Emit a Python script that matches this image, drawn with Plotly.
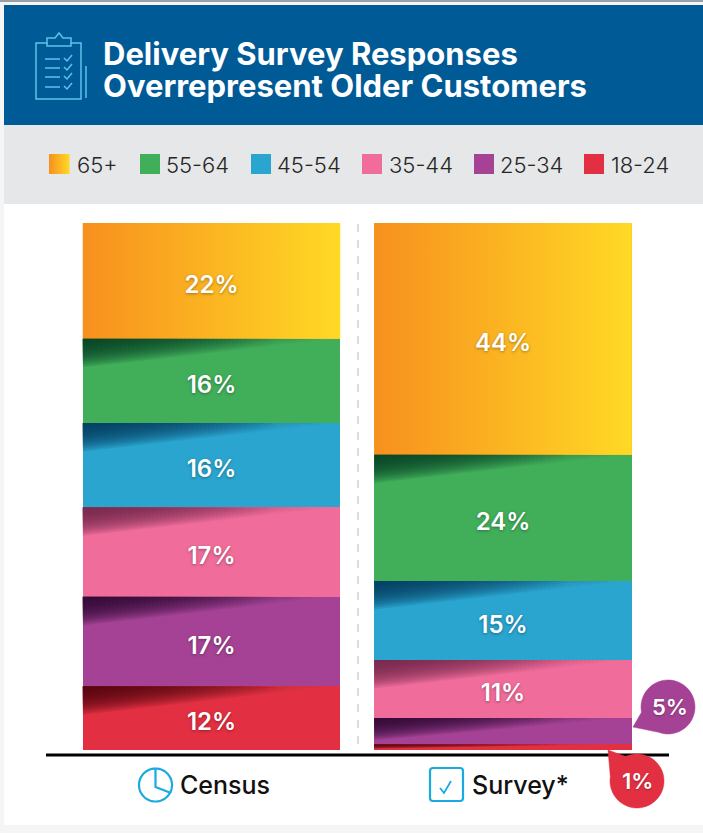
import math
import plotly.graph_objects as go

# Age groups, oldest first, as they stack from top to bottom
AGE_GROUPS = ["65+", "55-64", "45-54", "35-44", "25-34", "18-24"]
CENSUS = [22, 16, 16, 17, 17, 12]
SURVEY = [44, 24, 15, 11, 5, 1]
COLUMNS = ["Census", "Survey*"]
TITLE_LINES = ["Delivery Survey Responses", "Overrepresent Older Customers"]

COLORS = ["#fbb01f", "#41ae5a", "#29a5cf", "#f06c9b", "#a54295", "#e23042"]
SHADES = ["#000000", "#033d22", "#00385a", "#6e2347", "#2a0530", "#4d000b"]
GOLD_RAMP = [[0, "#f7901e"], [1, "#ffd925"]]

W, H = 703, 833
FONT = "Inter"
X_UNIT, Y_UNIT = 291.5, 5.265
X_ZERO, Y_ZERO = 211.5, 749.5
BAR_WIDTH = 257.5 / X_UNIT
SHADE_LAYERS = 18


def xd(px):
    return (px - X_ZERO) / X_UNIT


def yd(py):
    return (Y_ZERO - py) / Y_UNIT


def xp(px):
    return px / W


def yp(py):
    return 1 - py / H


def pixel_rect(x0, y0, x1, y1, color, layer="below", line=None):
    return dict(type="rect", xref="paper", yref="paper", x0=xp(x0), x1=xp(x1),
                y0=yp(y0), y1=yp(y1), fillcolor=color, layer=layer,
                line=line or dict(width=0))


def pixel_path(points, color, width=1.5, close=False, fill=None):
    d = "M" + " L".join(f"{xp(a):.5f},{yp(b):.5f}" for a, b in points)
    if close:
        d += " Z"
    return dict(type="path", xref="paper", yref="paper", path=d, layer="above",
                fillcolor=fill or "rgba(0,0,0,0)",
                line=dict(color=color, width=width))


def bubble(cx, cy, r, tip, start_deg, gap_deg, color):
    pts = [tip]
    steps = 60
    for i in range(steps + 1):
        a = math.radians(start_deg + (360 - gap_deg) * i / steps)
        pts.append((cx + r * math.cos(a), cy + r * math.sin(a)))
    return pixel_path(pts, color, width=0.5, close=True, fill=color)


def text(x, y, s, size, color="#1a1a1a", weight=400, anchor="left", shadow=None):
    font = dict(family=FONT, size=size, color=color, weight=weight)
    if shadow:
        font["shadow"] = shadow
    return dict(xref="paper", yref="paper", x=xp(x), y=yp(y), text=s, showarrow=False,
                xanchor=anchor, yanchor="middle", font=font)


fig = go.Figure()

# Stacked bars, youngest group at the baseline
for i in reversed(range(len(AGE_GROUPS))):
    fig.add_trace(go.Bar(x=[0, 1], y=[CENSUS[i], SURVEY[i]], name=AGE_GROUPS[i],
                         width=BAR_WIDTH, marker=dict(color=COLORS[i], line=dict(width=0)),
                         hoverinfo="skip"))


def polygon(xs, ys, ramp):
    fig.add_trace(go.Scatter(x=xs, y=ys, mode="lines", line=dict(width=0), fill="toself",
                             fillgradient=dict(type="horizontal", colorscale=ramp),
                             hoverinfo="skip", showlegend=False))


def rgba(hex_color, alpha):
    r, g, b = (int(hex_color[k:k + 2], 16) for k in (1, 3, 5))
    return f"rgba({r},{g},{b},{alpha})"


label_x, label_y, label_text = [], [], []
for col, values in enumerate([CENSUS, SURVEY]):
    left, right = col - BAR_WIDTH / 2, col + BAR_WIDTH / 2
    top = sum(values)
    for i, v in enumerate(values):
        bottom = top - v
        if i == 0:
            # Warm horizontal ramp on the oldest group
            polygon([left, right, right, left, left], [top, top, bottom, bottom, top], GOLD_RAMP)
        else:
            # Fold shadow: many faint wedges that build up toward the upper-left corner
            depth = min(5.4, v * 0.85)
            for k in range(1, SHADE_LAYERS + 1):
                wedge = depth * k / SHADE_LAYERS
                polygon([left, right, left, left], [top, top, top - wedge, top],
                        [[0, rgba(SHADES[i], 0.13)], [0.75, rgba(SHADES[i], 0.012)],
                         [1, rgba(SHADES[i], 0)]])
        if v >= 10:
            label_x.append(col)
            label_y.append(top - v / 2 - 1.15)
            label_text.append(f"{v}%")
        top = bottom

# Legend swatch with the same ramp as the oldest group
polygon([xd(49), xd(69.5), xd(69.5), xd(49), xd(49)],
        [yd(154), yd(154), yd(174), yd(174), yd(154)], GOLD_RAMP)

# Value labels sit above every fill
fig.add_trace(go.Scatter(x=label_x, y=label_y, text=label_text, mode="text",
                         textposition="middle center", hoverinfo="skip", showlegend=False,
                         textfont=dict(family=FONT, size=24, color="white", weight=600,
                                       shadow="0px 1px 3px rgba(0,0,0,0.35)")))

shapes = [
    pixel_rect(0, 0, W, H, "#f5f5f5"),
    pixel_rect(4, 204, W, 825, "#ffffff"),
    pixel_rect(0, 0, W, 2, "#9a9ea6"),
    pixel_rect(4, 5, W, 125, "#005a96"),
    pixel_rect(4, 125, W, 204, "#e6e7e8"),
]

# Legend swatches and labels
swatch_x = [49, 140, 251, 362, 474, 584]
label_start = [75, 164, 275, 387, 498, 609]
annotations = []
for i, group in enumerate(AGE_GROUPS):
    if i > 0:
        shapes.append(pixel_rect(swatch_x[i], 154, swatch_x[i] + 20, 174, COLORS[i]))
    annotations.append(text(label_start[i], 165, group, 22, color="#262626", weight=300))

# Divider between the two columns and the baseline
shapes.append(dict(type="line", xref="paper", yref="paper", x0=xp(358), x1=xp(358),
                   y0=yp(224), y1=yp(746), layer="below",
                   line=dict(color="#dcdcdc", width=2, dash="8px,8px")))
shapes.append(dict(type="line", xref="paper", yref="paper", x0=xp(46), x1=xp(669),
                   y0=yp(755), y1=yp(755), layer="above", line=dict(color="#000000", width=3)))

# Clipboard icon in the header
ICON = "#5cc3ec"
shapes.append(pixel_path([(36, 43), (47, 43), (47, 38), (55, 38), (59, 33), (63, 38), (71, 38),
                          (71, 43), (81, 43), (81, 99), (36, 99)], ICON, close=True))
shapes.append(pixel_path([(47, 43), (47, 46), (71, 46), (71, 43)], ICON))
shapes.append(pixel_path([(86, 66), (86, 98)], ICON))
for y in (59, 68, 77, 87):
    shapes.append(pixel_path([(45, y), (60, y)], ICON))
    shapes.append(pixel_path([(64, y - 1), (67, y + 2), (72, y - 4)], ICON))

# Column heading icons
BLUE = "#1ba9e1"
circle = [(155.5 + 16.5 * math.cos(t * math.pi / 30), 785 + 16.5 * math.sin(t * math.pi / 30))
          for t in range(61)]
shapes.append(pixel_path(circle, BLUE, width=2.2))
shapes.append(pixel_path([(155.5, 769), (155.5, 787), (171, 793)], BLUE, width=2.2))
shapes.append(dict(type="path", xref="paper", yref="paper", layer="above",
                   path=(f"M{xp(433)},{yp(768)} L{xp(460)},{yp(768)} Q{xp(463)},{yp(768)} {xp(463)},{yp(771)} "
                         f"L{xp(463)},{yp(798)} Q{xp(463)},{yp(801)} {xp(460)},{yp(801)} "
                         f"L{xp(433)},{yp(801)} Q{xp(430)},{yp(801)} {xp(430)},{yp(798)} "
                         f"L{xp(430)},{yp(771)} Q{xp(430)},{yp(768)} {xp(433)},{yp(768)} Z"),
                   line=dict(color=BLUE, width=2.2)))
shapes.append(pixel_path([(440, 788), (444, 793), (451, 781)], BLUE, width=1.8))

# Callouts for the two slivers too thin to hold a label
shapes.append(bubble(668, 707, 27, (633, 727), 169, 59, COLORS[4]))
shapes.append(bubble(637, 781, 27, (608, 750), -115, 56, COLORS[5]))

for i, line in enumerate(TITLE_LINES):
    annotations.append(text(101, 53 + 32 * i, line, 31, color="#ffffff", weight=700))
annotations.append(text(178, 785, COLUMNS[0], 25, color="#111111", weight=500))
annotations.append(text(470, 785, COLUMNS[1], 25, color="#111111", weight=500))
soft = "0px 1px 2px rgba(0,0,0,0.3)"
annotations.append(text(669.5, 707, f"{SURVEY[4]}%", 22, color="#ffffff", weight=600,
                        anchor="center", shadow=soft))
annotations.append(text(637, 781, f"{SURVEY[5]}%", 22, color="#ffffff", weight=600,
                        anchor="center", shadow=soft))

fig.update_layout(
    width=W, height=H, margin=dict(l=0, r=0, t=0, b=0), barmode="stack", bargap=0,
    showlegend=False, paper_bgcolor="#ffffff", plot_bgcolor="rgba(0,0,0,0)",
    xaxis=dict(range=[xd(0), xd(W)], visible=False, fixedrange=True),
    yaxis=dict(range=[yd(H), yd(0)], visible=False, fixedrange=True),
    shapes=shapes, annotations=annotations,
)

fig.write_html("out.html", config=dict(displayModeBar=False))
